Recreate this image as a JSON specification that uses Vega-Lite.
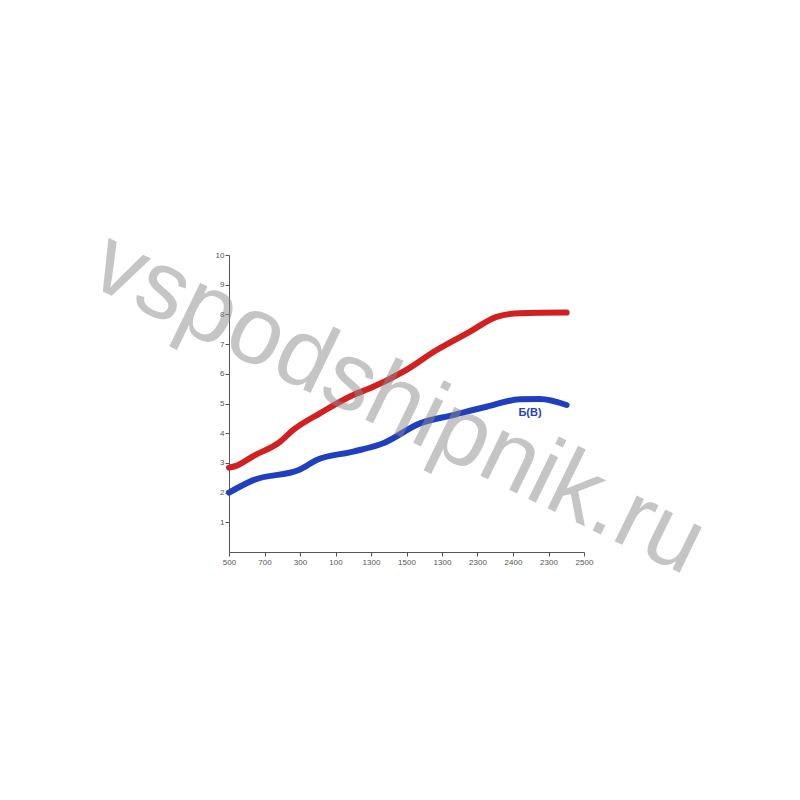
{
  "$schema": "https://vega.github.io/schema/vega-lite/v6.json",
  "autosize": "none",
  "width": 355,
  "height": 297,
  "padding": {"left": 229, "top": 255, "right": 216, "bottom": 248},
  "background": "white",
  "config": {"view": {"stroke": null}},
  "datasets": {
    "lines": [
      {"series": "red", "x": 500, "y": 2.84},
      {"series": "red", "x": 540, "y": 2.9},
      {"series": "red", "x": 637, "y": 3.23},
      {"series": "red", "x": 787, "y": 3.71},
      {"series": "red", "x": 862, "y": 4.11},
      {"series": "red", "x": 1012, "y": 4.67},
      {"series": "red", "x": 1200, "y": 5.29},
      {"series": "red", "x": 1294, "y": 5.51},
      {"series": "red", "x": 1482, "y": 6.07},
      {"series": "red", "x": 1670, "y": 6.8},
      {"series": "red", "x": 1858, "y": 7.42},
      {"series": "red", "x": 2008, "y": 7.92},
      {"series": "red", "x": 2139, "y": 8.04},
      {"series": "red", "x": 2402, "y": 8.06},
      {"series": "blue", "x": 500, "y": 2.0},
      {"series": "blue", "x": 637, "y": 2.42},
      {"series": "blue", "x": 900, "y": 2.78},
      {"series": "blue", "x": 994, "y": 3.1},
      {"series": "blue", "x": 1200, "y": 3.38},
      {"series": "blue", "x": 1369, "y": 3.66},
      {"series": "blue", "x": 1576, "y": 4.33},
      {"series": "blue", "x": 1763, "y": 4.61},
      {"series": "blue", "x": 1951, "y": 4.89},
      {"series": "blue", "x": 2139, "y": 5.14},
      {"series": "blue", "x": 2252, "y": 5.15},
      {"series": "blue", "x": 2402, "y": 4.95}
    ],
    "label": [{"x": 2196, "y": 4.68, "text": "Б(В)"}],
    "watermark": [{"x": 1455, "y": 5.0, "text": "vspodshipnik.ru"}]
  },
  "layer": [
    {
      "data": {"name": "lines"},
      "mark": {"type": "line", "strokeWidth": 6, "strokeCap": "round", "strokeJoin": "round", "interpolate": "monotone"},
      "encoding": {
        "x": {
          "field": "x", "type": "quantitative",
          "scale": {"domain": [500, 2500], "nice": false, "zero": false},
          "axis": {
            "title": null, "grid": false, "tickCount": 50, "values": [500, 700, 900, 1100, 1300, 1500, 1700, 1900, 2100, 2300, 2500],
            "labelExpr": "({'500':'500','700':'700','900':'300','1100':'100','1300':'1300','1500':'1500','1700':'1300','1900':'2300','2100':'2400','2300':'2300','2500':'2500'})[datum.value + '']",
            "labelOverlap": false, "labelFlush": false,
            "domainColor": "#555", "tickColor": "#555", "tickSize": 4, "labelFontSize": 8,
            "labelColor": "#555", "labelFont": "Liberation Sans", "labelPadding": 2
          }
        },
        "y": {
          "field": "y", "type": "quantitative",
          "scale": {"domain": [0, 10], "nice": false},
          "axis": {
            "title": null, "grid": false, "tickCount": 50, "values": [1, 2, 3, 4, 5, 6, 7, 8, 9, 10],
            "format": "d", "labelOverlap": false, "labelFlush": false,
            "domainColor": "#555", "tickColor": "#555", "tickSize": 4, "labelFontSize": 8,
            "labelColor": "#555", "labelFont": "Liberation Sans", "labelPadding": 1
          }
        },
        "color": {
          "field": "series", "type": "nominal",
          "scale": {"domain": ["red", "blue"], "range": ["#d21f1f", "#1f3fc0"]},
          "legend": null
        }
      }
    },
    {
      "data": {"name": "label"},
      "mark": {"type": "text", "font": "Liberation Sans", "fontWeight": "bold", "fontSize": 11, "color": "#1f3fc0"},
      "encoding": {
        "x": {"field": "x", "type": "quantitative"},
        "y": {"field": "y", "type": "quantitative"},
        "text": {"field": "text"}
      }
    },
    {
      "data": {"name": "watermark"},
      "mark": {"type": "text", "font": "Liberation Sans", "fontSize": 96, "angle": 26, "color": "#8c8c8c", "opacity": 0.5, "align": "center", "baseline": "middle"},
      "encoding": {
        "x": {"field": "x", "type": "quantitative"},
        "y": {"field": "y", "type": "quantitative"},
        "text": {"field": "text"}
      }
    }
  ]
}
